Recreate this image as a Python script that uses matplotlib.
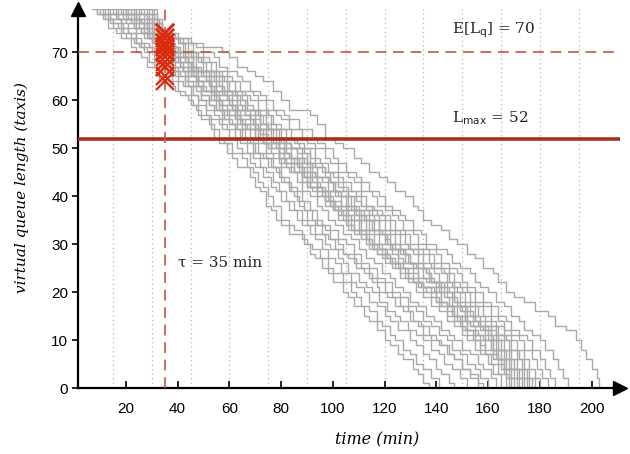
import matplotlib
matplotlib.use("Agg")
import matplotlib.pyplot as plt

# ---------------- data ----------------
tau = 35
expected_lq = 70
l_max = 52
x_ticks = [20, 40, 60, 80, 100, 120, 140, 160, 180, 200]
y_ticks = [0, 10, 20, 30, 40, 50, 60, 70]
grid_x = [15, 30, 45, 60, 75, 90, 105, 120, 135, 150, 165, 180, 195]

# each run: (time in min, queue length from that time on)
run01 = [(0,82),(7,79),(9,78),(11,77),(13,75),(16,74),(18,73),(22,71),(24,70),(26,69),(28,67),(33,64),(37,63),(39,62),(41,61),(44,60),(46,59),(48,57),(52,55),(54,52),(56,51),(59,49),(61,48),(63,46),(68,44),(70,42),(72,41),(74,38),(76,37),(78,35),(80,34),(83,32),(89,30),(91,28),(93,27),(96,25),(98,24),(100,22),(104,20),(106,19),(108,17),(112,15),(114,14),(117,12),(120,10),(122,9),(125,7),(127,6),(131,4),(133,3),(135,1),(137,0)]
run02 = [(0,82),(9,79),(10,78),(13,77),(15,75),(18,74),(20,73),(23,72),(25,71),(27,70),(29,68),(31,67),(34,65),(38,64),(40,62),(43,61),(45,59),(47,58),(49,56),(53,54),(56,52),(58,51),(61,49),(65,48),(67,46),(69,45),(71,43),(73,42),(75,40),(77,38),(80,35),(83,34),(85,33),(88,31),(90,30),(92,29),(95,27),(98,25),(100,24),(104,22),(107,20),(109,19),(111,17),(114,16),(117,14),(119,13),(122,11),(124,10),(127,8),(130,7),(132,5),(135,4),(138,2),(141,0)]
run03 = [(0,82),(11,79),(12,78),(14,76),(17,75),(19,74),(22,73),(24,72),(26,71),(28,70),(31,68),(33,67),(36,66),(40,64),(42,63),(45,61),(48,59),(51,57),(53,56),(57,54),(60,52),(63,50),(65,49),(68,47),(70,46),(73,44),(76,42),(78,41),(80,39),(83,37),(86,35),(88,34),(91,32),(93,31),(96,29),(98,27),(101,26),(103,24),(107,22),(109,21),(112,20),(114,18),(117,17),(120,15),(122,14),(125,12),(130,10),(132,9),(135,7),(137,6),(140,4),(142,3),(145,1),(147,0)]
run04 = [(0,82),(8,79),(9,78),(12,77),(15,76),(19,75),(21,74),(24,72),(27,71),(30,70),(32,69),(34,68),(37,67),(39,65),(43,63),(46,61),(48,60),(51,58),(54,57),(56,55),(59,54),(62,52),(64,51),(67,49),(69,48),(72,46),(74,45),(77,43),(79,41),(82,39),(85,37),(88,35),(90,34),(93,32),(97,30),(99,29),(102,27),(104,26),(106,24),(110,22),(113,21),(115,20),(118,18),(121,16),(124,15),(126,14),(129,12),(132,11),(135,10),(138,8),(141,7),(143,5),(146,4),(149,2),(152,0)]
run05 = [(0,82),(13,79),(14,78),(16,77),(18,75),(21,74),(24,73),(26,72),(29,71),(31,70),(32,68),(34,67),(38,66),(41,65),(44,63),(47,62),(49,60),(52,59),(54,58),(57,56),(60,55),(62,54),(65,52),(68,51),(70,49),(73,48),(76,46),(79,44),(81,43),(84,41),(86,39),(89,37),(92,35),(94,34),(97,33),(99,31),(102,30),(104,28),(108,26),(111,25),(114,23),(117,22),(120,20),(123,19),(126,17),(129,16),(131,14),(134,13),(137,11),(140,10),(142,9),(145,7),(147,6),(150,4),(153,2),(156,0)]
run06 = [(0,82),(10,79),(11,78),(14,77),(18,76),(21,75),(24,74),(27,73),(30,72),(32,71),(33,70),(34,69),(38,67),(40,66),(43,64),(46,63),(49,61),(52,59),(55,58),(58,56),(61,55),(63,54),(66,52),(69,51),(71,49),(74,48),(77,46),(80,44),(83,42),(86,41),(88,39),(91,37),(94,35),(96,34),(99,33),(102,31),(105,30),(108,28),(111,26),(114,25),(117,23),(120,22),(123,20),(126,19),(129,17),(132,16),(135,14),(138,13),(141,11),(144,10),(146,8),(149,7),(152,5),(155,4),(157,2),(160,0)]
run07 = [(0,82),(15,79),(16,78),(19,77),(22,76),(25,75),(28,74),(30,73),(32,72),(34,70),(37,69),(39,68),(42,66),(45,65),(48,63),(51,62),(54,60),(57,58),(60,57),(63,55),(65,54),(68,52),(71,51),(74,49),(77,48),(80,46),(83,45),(86,43),(88,41),(91,40),(94,38),(96,37),(98,35),(101,34),(104,32),(107,31),(110,29),(113,27),(116,26),(119,24),(122,23),(124,21),(127,20),(130,18),(133,17),(136,15),(139,14),(142,12),(145,11),(147,10),(150,8),(153,7),(156,5),(158,4),(161,2),(163,0)]
run08 = [(0,82),(12,79),(13,78),(17,77),(20,76),(23,75),(26,74),(29,73),(31,72),(33,71),(34,70),(38,68),(41,67),(44,66),(47,64),(50,62),(53,61),(56,59),(59,58),(62,56),(65,55),(68,54),(70,52),(73,51),(76,50),(79,48),(82,47),(85,45),(88,43),(91,42),(94,40),(97,38),(100,37),(102,35),(105,34),(108,32),(111,31),(114,29),(117,28),(120,26),(123,25),(126,23),(129,22),(132,20),(135,19),(138,17),(141,16),(144,14),(147,13),(150,11),(152,10),(155,8),(157,7),(160,5),(162,3),(165,0)]
run09 = [(0,82),(17,79),(18,78),(21,77),(24,76),(27,75),(29,74),(31,73),(33,71),(36,70),(39,69),(41,67),(44,65),(47,64),(50,62),(53,60),(56,58),(59,57),(62,56),(65,55),(67,54),(70,52),(73,51),(76,49),(79,47),(82,46),(85,45),(88,43),(91,42),(94,40),(97,39),(100,37),(102,36),(104,35),(107,33),(110,32),(113,30),(116,29),(119,27),(122,26),(125,25),(128,23),(131,22),(135,20),(138,19),(141,17),(144,16),(147,14),(150,12),(152,11),(154,10),(157,8),(159,7),(161,5),(164,3),(167,0)]
run10 = [(0,82),(14,79),(15,78),(17,77),(22,76),(24,75),(26,74),(30,73),(32,71),(37,70),(38,69),(40,68),(45,66),(46,65),(48,64),(53,62),(55,60),(57,59),(63,57),(64,56),(66,55),(70,54),(72,52),(74,51),(79,50),(81,48),(82,47),(87,45),(89,44),(90,42),(96,40),(98,39),(99,38),(103,36),(105,35),(106,33),(111,32),(113,31),(115,29),(120,28),(122,26),(124,25),(129,23),(131,22),(133,21),(136,20),(140,18),(142,17),(144,15),(149,13),(151,12),(155,10),(157,9),(159,7),(164,5),(166,3),(168,0)]
run11 = [(0,82),(19,79),(20,78),(25,77),(26,76),(28,75),(31,74),(34,72),(38,70),(39,69),(44,68),(45,67),(47,65),(51,64),(53,63),(55,61),(59,60),(61,59),(63,57),(68,56),(70,55),(71,54),(73,52),(78,51),(79,49),(81,48),(86,47),(88,45),(89,44),(94,42),(96,41),(97,39),(101,38),(103,37),(105,36),(107,35),(111,33),(113,32),(114,30),(119,29),(121,27),(123,26),(127,25),(129,23),(131,22),(134,21),(138,20),(140,18),(144,17),(146,15),(148,14),(152,12),(154,11),(157,10),(159,8),(162,6),(165,4),(167,2),(169,0)]
run12 = [(0,82),(16,79),(17,78),(20,77),(23,75),(27,74),(28,73),(30,72),(33,70),(39,69),(41,68),(42,66),(46,65),(48,63),(50,62),(54,61),(56,59),(57,58),(62,57),(64,55),(66,54),(71,52),(73,51),(75,50),(79,48),(81,47),(84,45),(88,44),(90,42),(92,41),(97,40),(99,38),(101,37),(104,36),(106,35),(108,33),(113,31),(115,30),(117,28),(122,27),(124,26),(126,24),(131,23),(133,22),(135,21),(139,20),(142,18),(144,17),(147,15),(151,14),(153,13),(155,11),(158,10),(161,8),(163,6),(166,4),(168,2),(170,0)]
run13 = [(0,82),(21,79),(22,78),(24,77),(27,76),(30,74),(32,73),(34,72),(37,71),(39,70),(43,68),(44,67),(46,66),(50,65),(52,63),(53,62),(58,61),(60,59),(61,58),(66,57),(68,55),(70,54),(74,52),(76,51),(78,50),(82,49),(84,47),(86,46),(90,44),(92,43),(94,41),(98,40),(100,38),(102,37),(106,36),(108,35),(110,33),(114,32),(116,30),(118,29),(123,28),(125,26),(127,25),(131,24),(133,22),(135,21),(140,20),(142,18),(144,17),(148,15),(150,14),(152,12),(156,11),(159,10),(161,8),(164,6),(166,4),(169,2),(171,0)]
run14 = [(0,82),(18,79),(19,78),(22,77),(25,76),(27,75),(29,73),(33,72),(34,71),(37,70),(41,69),(43,68),(45,66),(49,65),(51,64),(53,62),(57,61),(59,60),(61,58),(66,57),(68,56),(70,54),(72,53),(75,52),(79,50),(81,49),(83,48),(87,46),(89,45),(91,43),(95,42),(97,41),(99,39),(103,38),(106,37),(108,36),(110,35),(114,33),(116,32),(118,30),(123,29),(125,27),(127,26),(131,25),(133,23),(136,22),(141,20),(143,19),(145,17),(149,16),(151,14),(153,13),(157,12),(160,10),(162,8),(165,6),(167,4),(170,2),(172,0)]
run15 = [(0,82),(23,79),(24,78),(27,77),(29,76),(31,75),(33,73),(36,72),(38,71),(40,70),(44,69),(46,67),(48,66),(53,65),(55,63),(57,62),(61,61),(63,59),(65,58),(70,57),(72,55),(74,54),(76,52),(80,51),(82,50),(84,48),(89,47),(91,45),(93,44),(98,43),(100,41),(102,40),(106,38),(108,37),(110,36),(112,35),(116,33),(118,32),(120,30),(124,29),(126,28),(128,26),(133,25),(135,23),(137,22),(142,20),(144,19),(146,17),(150,16),(152,14),(154,13),(158,12),(161,10),(163,8),(166,6),(168,4),(171,2),(173,0)]
run16 = [(0,82),(20,79),(21,78),(24,77),(26,76),(29,74),(31,73),(33,72),(36,71),(38,70),(40,69),(44,67),(46,66),(48,64),(52,63),(54,62),(56,60),(60,59),(62,58),(64,56),(69,55),(71,54),(74,52),(77,51),(79,49),(83,48),(85,47),(88,45),(92,44),(94,42),(96,41),(101,40),(103,38),(105,37),(109,36),(111,35),(113,33),(118,32),(120,31),(122,29),(127,28),(129,26),(131,25),(136,24),(138,22),(140,21),(143,20),(147,18),(149,17),(151,15),(155,14),(157,13),(159,11),(162,10),(164,8),(167,6),(169,4),(172,2),(174,0)]
run17 = [(0,82),(25,79),(26,78),(28,77),(30,76),(32,75),(34,73),(37,72),(39,71),(41,70),(45,69),(47,67),(49,66),(54,65),(56,63),(58,62),(62,61),(64,59),(66,58),(71,57),(73,55),(75,54),(78,52),(82,51),(84,50),(86,48),(90,47),(92,45),(94,44),(99,43),(101,41),(103,40),(107,38),(109,37),(112,36),(114,35),(118,33),(120,32),(122,30),(126,29),(128,28),(130,26),(135,25),(137,23),(139,22),(144,20),(146,19),(148,17),(152,16),(154,14),(156,13),(160,12),(163,10),(165,8),(168,6),(170,4),(173,2),(175,0)]
run18 = [(0,82),(22,79),(23,78),(25,77),(28,75),(30,74),(33,72),(36,71),(39,70),(42,69),(44,68),(46,66),(51,65),(53,64),(55,62),(59,61),(61,60),(63,58),(68,57),(70,56),(72,54),(77,52),(79,51),(81,50),(86,49),(88,47),(90,46),(94,44),(96,43),(98,41),(103,40),(105,38),(107,37),(111,36),(113,35),(115,33),(119,32),(121,30),(123,29),(128,28),(130,26),(132,25),(136,24),(138,22),(141,21),(145,20),(147,18),(149,17),(153,15),(155,14),(157,13),(161,11),(164,10),(166,8),(169,6),(171,4),(174,2),(176,0)]
run19 = [(0,82),(27,79),(28,78),(30,77),(32,76),(34,74),(38,73),(40,72),(42,70),(46,69),(48,68),(50,66),(55,65),(57,64),(59,62),(63,61),(65,60),(67,58),(72,57),(74,55),(76,54),(80,52),(82,51),(84,50),(89,49),(91,47),(93,46),(97,44),(99,43),(101,41),(106,40),(108,38),(110,37),(114,36),(116,35),(118,33),(122,32),(124,30),(126,29),(131,28),(133,26),(135,25),(139,24),(141,22),(143,21),(147,20),(149,18),(151,17),(155,15),(157,14),(159,13),(163,11),(166,10),(168,8),(171,6),(173,4),(175,2),(177,0)]
run20 = [(0,82),(24,79),(25,78),(28,77),(30,75),(33,73),(36,72),(38,71),(40,70),(43,69),(46,67),(48,66),(52,65),(54,64),(57,62),(61,61),(63,60),(66,58),(70,57),(72,55),(75,54),(79,52),(81,51),(84,50),(88,49),(90,47),(93,46),(97,45),(99,43),(102,42),(106,40),(109,39),(111,38),(115,36),(118,35),(120,33),(124,32),(126,30),(129,29),(133,28),(135,26),(138,25),(142,24),(144,22),(146,21),(148,20),(151,18),(153,17),(156,15),(159,14),(161,13),(164,11),(167,10),(169,8),(172,6),(174,4),(176,2),(178,0)]
run21 = [(0,82),(26,79),(27,78),(29,77),(31,76),(34,74),(37,73),(40,72),(43,70),(47,69),(49,68),(51,66),(56,65),(58,64),(60,62),(65,61),(67,59),(69,58),(74,57),(76,55),(78,54),(82,52),(85,51),(87,50),(91,48),(93,47),(96,45),(100,44),(102,43),(104,41),(109,40),(111,38),(113,37),(117,36),(120,35),(122,33),(126,32),(128,30),(130,29),(135,28),(137,26),(139,25),(143,24),(145,22),(147,21),(150,20),(153,18),(155,17),(158,15),(161,14),(163,13),(166,11),(169,10),(171,8),(174,6),(176,4),(178,2),(180,0)]
run22 = [(0,82),(28,79),(29,78),(31,77),(33,76),(34,74),(38,73),(41,72),(44,70),(48,69),(50,68),(53,66),(57,65),(59,64),(62,62),(66,61),(68,60),(71,58),(75,57),(77,55),(80,54),(84,52),(86,51),(89,50),(93,48),(95,47),(98,45),(102,44),(104,43),(107,41),(111,40),(113,38),(116,37),(119,36),(122,35),(124,33),(128,32),(130,30),(133,29),(137,28),(139,26),(142,25),(145,24),(147,22),(149,21),(152,20),(155,18),(158,17),(161,15),(164,14),(166,12),(169,11),(172,10),(174,8),(177,6),(179,4),(181,2),(183,0)]
run23 = [(0,82),(29,79),(30,78),(32,76),(34,74),(38,73),(42,72),(46,70),(50,69),(52,68),(55,66),(59,65),(61,64),(64,62),(69,61),(71,60),(74,58),(78,57),(80,56),(83,54),(88,52),(90,51),(93,50),(97,48),(99,47),(102,45),(106,44),(108,43),(111,41),(115,40),(117,38),(120,37),(123,36),(125,35),(127,33),(131,32),(133,30),(136,29),(140,28),(142,26),(145,25),(148,24),(150,22),(152,21),(155,20),(158,18),(161,17),(164,15),(167,14),(169,12),(172,11),(175,10),(177,8),(180,6),(182,4),(184,2),(186,0)]
run24 = [(0,82),(31,79),(32,77),(34,74),(39,73),(44,72),(47,71),(50,70),(54,69),(56,67),(59,66),(63,65),(65,64),(68,62),(72,61),(74,60),(77,58),(81,57),(83,56),(87,54),(92,52),(94,51),(97,50),(100,48),(102,47),(105,45),(109,44),(111,43),(114,41),(118,40),(120,38),(123,37),(126,36),(128,35),(131,33),(134,32),(136,30),(140,29),(144,28),(146,26),(149,25),(153,24),(155,22),(157,21),(160,20),(163,18),(166,17),(169,15),(172,14),(174,12),(177,11),(180,10),(182,8),(185,6),(187,4),(189,2),(191,0)]
run25 = [(0,82),(29,79),(31,77),(33,74),(40,73),(45,72),(50,71),(57,70),(60,69),(63,67),(67,66),(70,65),(73,64),(77,62),(80,60),(83,58),(91,57),(94,55),(97,52),(101,51),(104,50),(108,48),(111,47),(114,45),(118,44),(121,43),(124,41),(128,40),(131,38),(133,37),(135,35),(138,34),(142,33),(145,31),(148,30),(152,28),(155,27),(158,25),(162,24),(164,22),(167,20),(170,19),(174,18),(178,16),(183,15),(186,13),(190,12),(194,10),(196,8),(198,6),(200,4),(202,2),(203,0)]
run26 = [(0,82),(19,79),(20,78),(23,77),(25,76),(27,74),(29,73),(31,72),(33,70),(37,69),(39,67),(42,66),(44,64),(47,63),(49,61),(52,60),(55,58),(57,57),(60,55),(62,54),(64,52),(67,51),(69,49),(72,48),(75,46),(78,45),(80,43),(83,41),(85,40),(87,38),(89,37),(90,35),(93,34),(96,32),(98,31),(101,29),(104,28),(106,27),(109,25),(112,24),(115,22),(117,21),(118,20),(121,19),(124,17),(127,16),(130,14),(133,13),(135,11),(138,10),(141,9),(144,7),(147,6),(150,4),(153,3),(156,1),(158,0)]

runs = [run01, run02, run03, run04, run05, run06, run07, run08, run09, run10,
        run11, run12, run13, run14, run15, run16, run17, run18, run19, run20,
        run21, run22, run23, run24, run25, run26]

# ---------------- figure ----------------
W, H, DPI = 630, 454, 100
fig = plt.figure(figsize=(W / DPI, H / DPI), dpi=DPI)
ax = fig.add_axes([78 / W, 1 - 388 / H, (620 - 78) / W, (388 - 9) / H])

XMIN, XMAX, YMIN, YMAX = 1.5, 211, 0, 79
ax.set_xlim(XMIN, XMAX)
ax.set_ylim(YMIN, YMAX)

for gx in grid_x:
    ax.axvline(gx, color="#b5b5b5", lw=0.9, ls=(0, (1, 2.6)), zorder=0)

grey = "#a9a9a9"
tau_vals = []
for r in runs:
    t = [p[0] for p in r]
    y = [p[1] for p in r]
    ax.plot(t + [XMAX + 10], y + [y[-1]], drawstyle="steps-post",
            color=grey, lw=1.0, zorder=2)
    v = y[0]
    for ti, yi in zip(t, y):
        if ti <= tau:
            v = yi
    tau_vals.append(v)

ax.axhline(expected_lq, color="#c65540", lw=1.2, ls=(0, (6.5, 4)), zorder=3)
ax.axhline(l_max, color="#a5301f", lw=2.6, zorder=3)
ax.axvline(tau, color="#c65540", lw=1.2, ls=(0, (6.5, 4)), zorder=3)
ax.plot([tau] * len(tau_vals), tau_vals, ls="none", marker="x", ms=13, mew=1.6,
        color="#dc2a0c", zorder=4)

serif = ["DejaVu Serif"]
plt.rcParams["mathtext.default"] = "regular"
ax.text(162, 74.6, r"E[L$_{\mathrm{q}}$] = 70", fontsize=11, family=serif,
        ha="center", va="center", color="#222222")
ax.text(161, 56.2, r"L$_{\mathrm{max}}$ = 52", fontsize=11, family=serif,
        ha="center", va="center", color="#222222")
ax.text(40, 26.2, r"τ = 35 min", fontsize=11, family=serif,
        ha="left", va="center", color="#222222")

for s in ["top", "right"]:
    ax.spines[s].set_visible(False)
for s in ["left", "bottom"]:
    ax.spines[s].set_linewidth(1.6)
    ax.spines[s].set_color("black")

ax.set_xticks(x_ticks)
ax.set_yticks(y_ticks)
ax.tick_params(axis="x", direction="in", length=5, width=1.2, labelsize=11, pad=10)
ax.tick_params(axis="y", direction="out", length=4, width=1.2, labelsize=11, pad=3)
for lab in ax.get_xticklabels() + ax.get_yticklabels():
    lab.set_family(["Liberation Sans", "DejaVu Sans"])

ax.plot(1, 0, marker=">", ms=10, color="black", transform=ax.transAxes, clip_on=False, zorder=5)
ax.plot(0, 1, marker="^", ms=10, color="black", transform=ax.transAxes, clip_on=False, zorder=5)

ax.set_xlabel("time (min)", family=serif, style="italic", fontsize=11.5)
ax.xaxis.set_label_coords((377 - 78) / 542, -(440 - 388) / 379)
ax.set_ylabel("virtual queue length (taxis)", family=serif, style="italic", fontsize=11)
ax.yaxis.set_label_coords((22 - 78) / 542, (388 - 188) / 379)
ax.xaxis.label.set_va("center")
ax.yaxis.label.set_va("center")

fig.savefig("out.png", dpi=DPI)
